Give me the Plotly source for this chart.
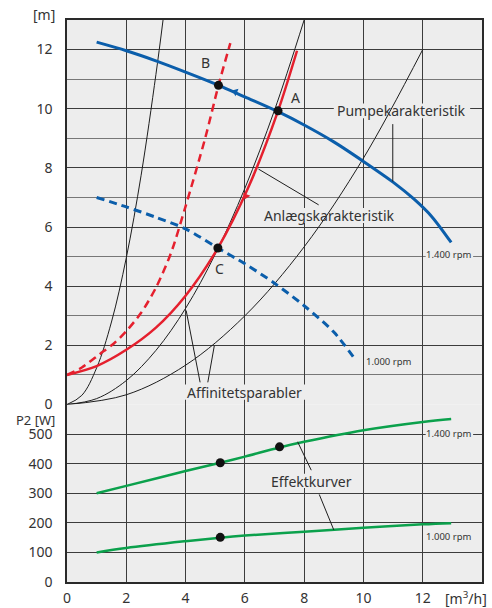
import plotly.graph_objects as go
from plotly.subplots import make_subplots

# pump curves (head, m)
pump1400_x = [1.0, 2, 3, 4, 5.1, 6, 7.12, 8, 9, 10, 11, 11.7, 12.3, 12.96]
pump1400_y = [12.25, 11.96, 11.62, 11.24, 10.8, 10.4, 9.9, 9.45, 8.88, 8.22, 7.52, 6.95, 6.36, 5.48]
pump1000_x = [1.0, 2, 3, 4, 5.09, 6, 7, 8, 9, 9.75]
pump1000_y = [7.0, 6.68, 6.33, 5.94, 5.29, 4.76, 4.1, 3.34, 2.45, 1.49]

# system curves
system_x = [0, 1, 2, 3, 4, 5.09, 6.1, 7.12, 7.76]
system_y = [1.0, 1.3, 1.85, 2.6, 3.68, 5.29, 7.3, 9.93, 11.96]
system2_x = [0, 0.5, 1.1, 1.6, 2.0, 2.5, 3.0, 3.5, 4.0, 4.66, 5.11, 5.51]
system2_y = [1.0, 1.25, 1.7, 2.08, 2.48, 3.1, 3.95, 5.1, 6.7, 9.0, 10.79, 12.22]

# affinity parabolas
par1_x = [0, 0.5, 1, 1.5, 2, 2.5, 3, 3.24]
par1_y = [0, 0.31, 1.24, 2.79, 4.96, 7.75, 11.16, 13.0]
par2_x = [0, 1, 2, 3, 4, 5, 6, 7, 8]
par2_y = [0, 0.2, 0.81, 1.83, 3.25, 5.08, 7.31, 9.95, 13.0]
par3_x = [0, 2, 4, 6, 8, 10, 12]
par3_y = [0, 0.33, 1.33, 3.0, 5.33, 8.33, 12.0]

# power curves (P2, W)
p1400_x = [1.0, 2, 4, 5.17, 6, 7.17, 8, 10, 12, 12.96]
p1400_y = [300, 325, 375, 403, 424, 455, 474, 513, 541, 551]
p1000_x = [1.0, 2, 4, 5.17, 6, 8, 10, 12, 12.96]
p1000_y = [100, 115, 138, 150, 157, 170, 183, 195, 199]

# operating points
head_pts_x = [7.12, 5.11, 5.09]
head_pts_y = [9.93, 10.79, 5.29]
head_pts_lbl = ["A", "B", "C"]
power_pts_x = [5.17, 7.17, 5.17]
power_pts_y = [403, 457, 151]

x_ticks = [0, 2, 4, 6, 8, 10, 12]
head_ticks = [0, 2, 4, 6, 8, 10, 12]
power_ticks = [0, 100, 200, 300, 400, 500]

BLUE = "#0b5eab"
RED = "#e5202e"
GREEN = "#0ba14c"
INK = "#1e1e1e"
BG = "#ededed"
TXT = "#333333"
FONT = "Noto Sans"

fig = make_subplots(rows=2, cols=1, shared_xaxes=True, vertical_spacing=0,
                    row_heights=[13 / 19, 6 / 19])

for px_, py_ in [(par1_x, par1_y), (par2_x, par2_y), (par3_x, par3_y)]:
    fig.add_trace(go.Scatter(x=px_, y=py_, mode="lines", line=dict(color=INK, width=1, shape="spline")), 1, 1)

fig.add_trace(go.Scatter(x=pump1000_x, y=pump1000_y, mode="lines",
                         line=dict(color=BLUE, width=3, dash="8px,5px", shape="spline", smoothing=0.8)), 1, 1)
fig.add_trace(go.Scatter(x=pump1400_x, y=pump1400_y, mode="lines",
                         line=dict(color=BLUE, width=3, shape="spline", smoothing=0.8)), 1, 1)
fig.add_trace(go.Scatter(x=system2_x, y=system2_y, mode="lines",
                         line=dict(color=RED, width=2.5, dash="8px,5px", shape="spline", smoothing=0.8)), 1, 1)
fig.add_trace(go.Scatter(x=system_x, y=system_y, mode="lines",
                         line=dict(color=RED, width=2.5, shape="spline", smoothing=0.8)), 1, 1)
fig.add_trace(go.Scatter(x=head_pts_x, y=head_pts_y, mode="markers",
                         marker=dict(color="#111", size=9)), 1, 1)

# direction arrowheads on curves
fig.add_trace(go.Scatter(x=[5.68], y=[10.57], mode="markers",
                         marker=dict(symbol="triangle-up", size=7, angle=-68, color=BLUE)), 1, 1)
fig.add_trace(go.Scatter(x=[6.04], y=[7.05], mode="markers",
                         marker=dict(symbol="triangle-up", size=7, angle=200, color=RED)), 1, 1)

fig.add_trace(go.Scatter(x=p1400_x, y=p1400_y, mode="lines",
                         line=dict(color=GREEN, width=2.5, shape="spline")), 2, 1)
fig.add_trace(go.Scatter(x=p1000_x, y=p1000_y, mode="lines",
                         line=dict(color=GREEN, width=2.5, shape="spline")), 2, 1)
fig.add_trace(go.Scatter(x=power_pts_x, y=power_pts_y, mode="markers",
                         marker=dict(color="#111", size=9)), 2, 1)

# background patches behind labels (hide grid, keep curves)
patches = [
    ("x", "y", 9.0, 13.6, 9.68, 10.18),
    ("x", "y", 6.5, 11.2, 6.14, 6.64),
    ("x", "y", 3.95, 8.1, 0.16, 0.68),
    ("x", "y", 12.1, 13.7, 4.87, 5.27),
    ("x2", "y2", 6.8, 9.7, 318, 366),
    ("x2", "y2", 12.1, 13.7, 484, 522),
]
for xr, yr, x0, x1, y0, y1 in patches:
    fig.add_shape(type="rect", xref=xr, yref=yr, x0=x0, x1=x1, y0=y0, y1=y1,
                  fillcolor=BG, line_width=0, layer="between")

# leader lines
leaders = [
    ("x", "y", 10.99, 9.48, 10.99, 7.54),
    ("x", "y", 6.46, 7.96, 8.49, 6.75),
    ("x", "y", 4.02, 3.18, 4.49, 0.75),
    ("x", "y", 4.97, 1.99, 4.75, 0.75),
    ("x2", "y2", 7.78, 474, 8.24, 378),
    ("x2", "y2", 8.51, 296, 9.0, 176),
]
for xr, yr, x0, y0, x1, y1 in leaders:
    fig.add_shape(type="line", xref=xr, yref=yr, x0=x0, y0=y0, x1=x1, y1=y1,
                  line=dict(color=INK, width=1))

labels = [
    ("x", "y", 11.3, 9.93, "Pumpekarakteristik", 14),
    ("x", "y", 8.86, 6.39, "Anlægskarakteristik", 14),
    ("x", "y", 6.0, 0.42, "Affinitetsparabler", 14),
    ("x2", "y2", 8.24, 341, "Effektkurver", 14),
    ("x", "y", 12.87, 5.07, "1.400 rpm", 9.5),
    ("x", "y", 10.85, 1.45, "1.000 rpm", 9.5),
    ("x2", "y2", 12.87, 503, "1.400 rpm", 9.5),
    ("x2", "y2", 12.87, 155, "1.000 rpm", 9.5),
    ("x", "y", 7.7, 10.37, head_pts_lbl[0], 14),
    ("x", "y", 4.66, 11.55, head_pts_lbl[1], 14),
    ("x", "y", 5.14, 4.59, head_pts_lbl[2], 14),
]
for xr, yr, x, y, t, s in labels:
    fig.add_annotation(xref=xr, yref=yr, x=x, y=y, text=t, showarrow=False,
                       font=dict(size=s, color=TXT, family=FONT))

# axis units
fig.add_annotation(xref="paper", yref="paper", x=-0.024, y=1.009, text="[m]", showarrow=False,
                   xanchor="right", yanchor="middle", font=dict(size=14, color=TXT, family=FONT))
fig.add_annotation(xref="paper", yref="y2", x=-0.024, y=546, text="P2 [W]", showarrow=False,
                   xanchor="right", font=dict(size=13, color=TXT, family=FONT))
fig.add_annotation(xref="x2", yref="paper", x=13.45, y=-0.029, text="[m<sup>3</sup>/h]",
                   showarrow=False, yanchor="middle", font=dict(size=14, color=TXT, family=FONT))

axis_common = dict(gridcolor="#3c3c3c", gridwidth=1.2, zeroline=False, ticks="",
                   automargin=False, tickfont=dict(size=14, color=TXT, family=FONT))
frame = dict(linecolor="#2a2a2a", linewidth=1.5)

fig.update_xaxes(range=[0, 14], tickvals=x_ticks, **axis_common)
fig.update_xaxes(showticklabels=False, showline=True, side="top", mirror=False, row=1, col=1, **frame)
fig.update_xaxes(ticklabelstandoff=2, showline=True, mirror=False, row=2, col=1, **frame)
fig.update_yaxes(range=[0, 13], tickvals=head_ticks, ticklabelstandoff=10,
                 showline=True, mirror=True,
                 minor=dict(dtick=1, showgrid=True, gridcolor="#777777", gridwidth=1.2),
                 row=1, col=1, **axis_common, **frame)
fig.update_yaxes(range=[0, 600], tickvals=power_ticks, ticklabelstandoff=10,
                 showline=True, mirror=True,
                 row=2, col=1, **axis_common, **frame)

fig.update_layout(
    width=492, height=608,
    margin=dict(l=67, r=10, t=20, b=26),
    paper_bgcolor="white",
    plot_bgcolor=BG,
    showlegend=False,
    font=dict(family=FONT, color=TXT),
)

fig.write_html("out.html", config={"displayModeBar": False},
               post_script="document.body.style.margin='0px';")
